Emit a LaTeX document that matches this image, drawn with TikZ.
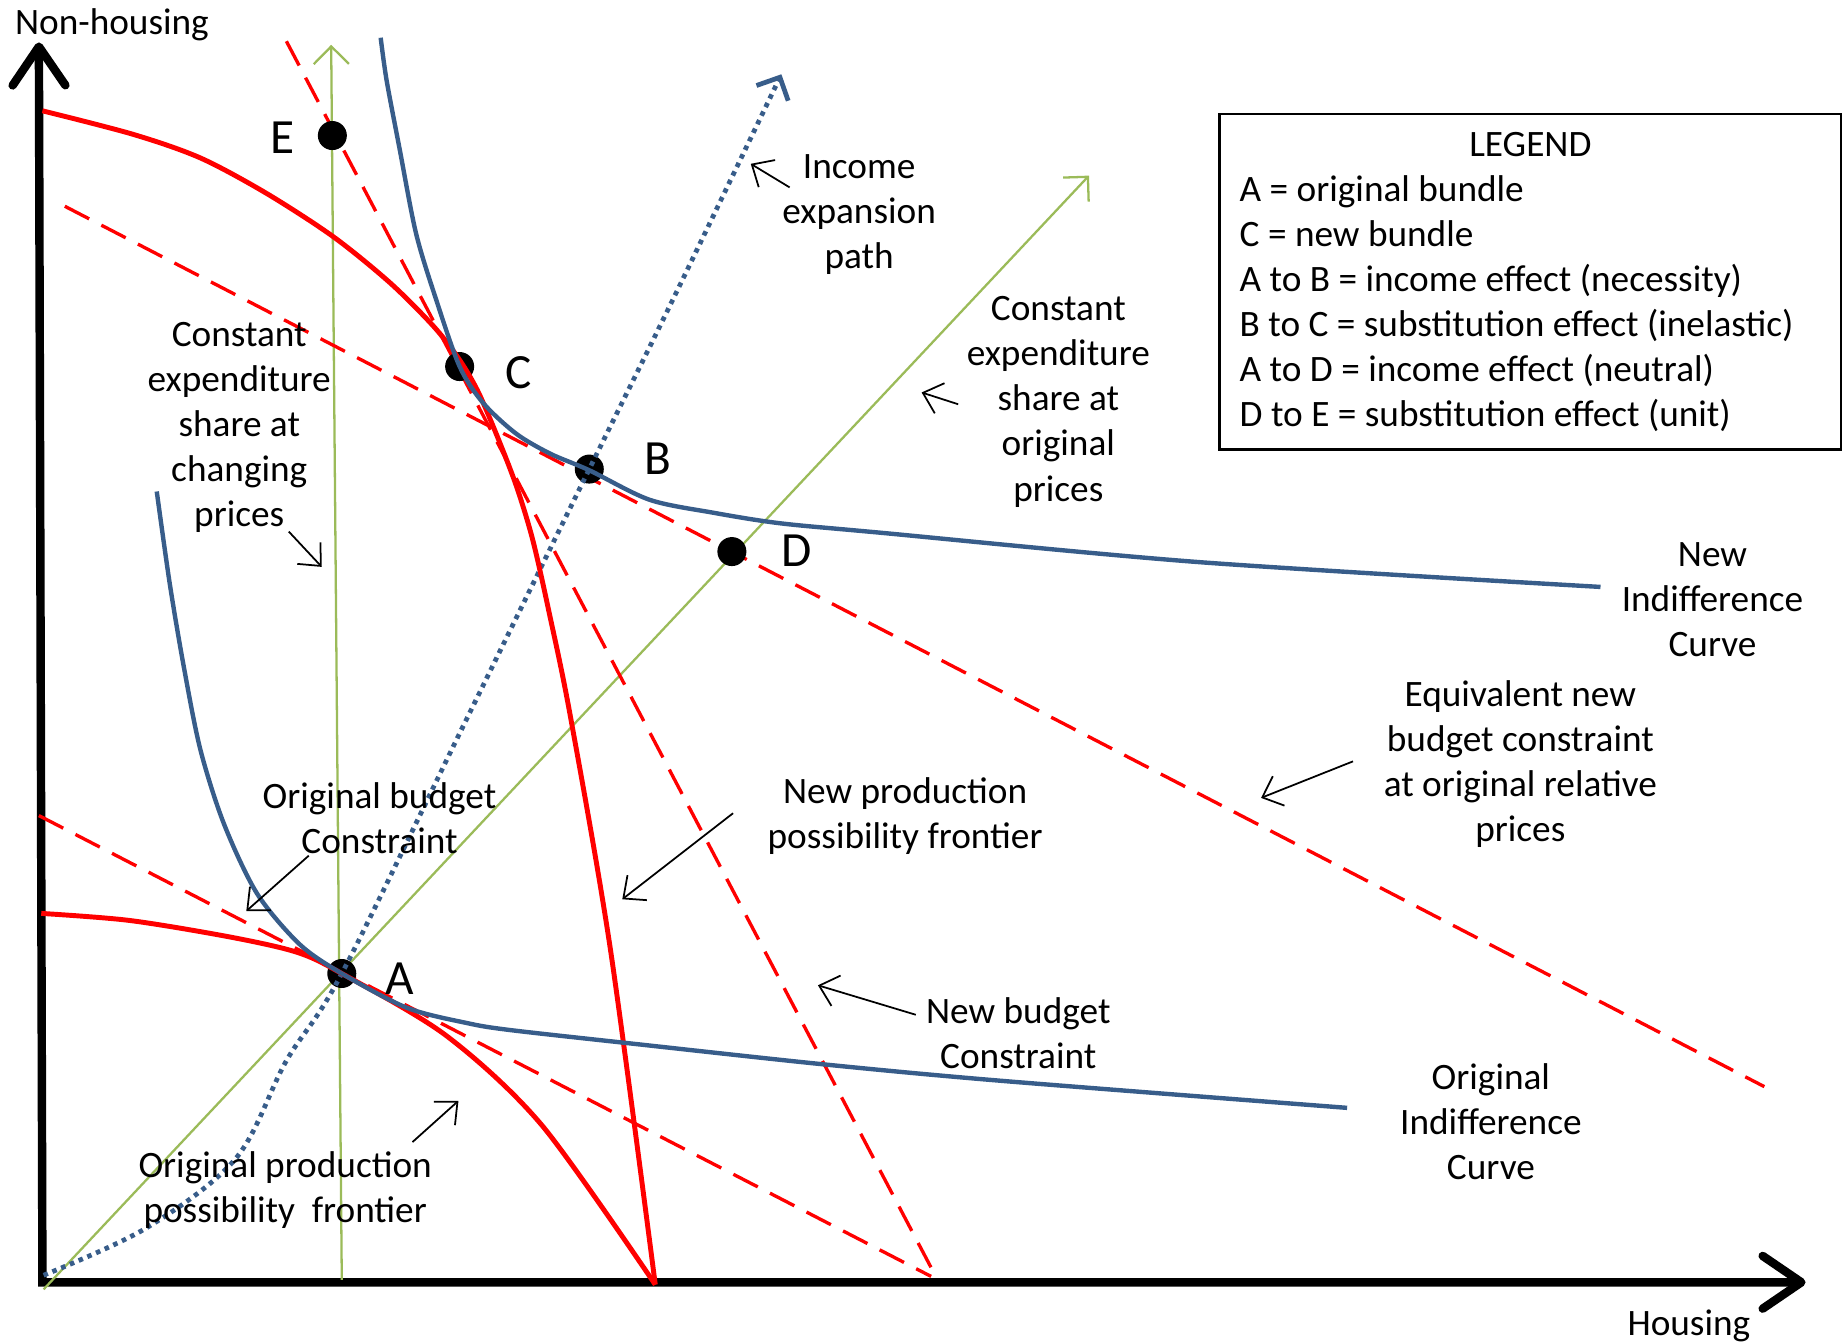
\documentclass[tikz,border=0pt]{standalone}
\usepackage{fontspec}
\setmainfont{Carlito}
\usetikzlibrary{arrows.meta}

\definecolor{icblue}{RGB}{56,93,138}
\definecolor{sharegreen}{RGB}{155,187,89}

\tikzset{
  axes/.style={line width=2.4pt,
    {Straight Barb[length=11pt,width=15pt,round]}-{Straight Barb[length=11pt,width=15pt,round]}},
  ppf/.style={red, line width=1.4pt},
  budget/.style={red, line width=0.95pt, dash pattern=on 7.8pt off 3.9pt},
  icurve/.style={icblue, line width=1.25pt},
  share/.style={sharegreen, line width=0.65pt, -{Straight Barb[length=5pt,width=10pt]}},
  iepath/.style={icblue, line width=1.35pt, dash pattern=on 1.3pt off 1.4pt,
    -{Straight Barb[length=5pt,width=10pt]}},
  pointer/.style={line width=0.5pt, -{Straight Barb[length=5pt,width=9pt]}},
  bundle/.style={circle, fill=black, inner sep=0pt, minimum size=0.29cm},
  ptlabel/.style={font=\fontsize{14}{17}\selectfont},
  txt/.style={align=center, font=\fontsize{10.6}{12.8}\selectfont},
}

\begin{document}
\begin{tikzpicture}[x=0.011786cm, y=-0.011786cm]
  \useasboundingbox (0,0) rectangle (1568,1139);

  % axes
  \draw[axes] (33,36) -- (36,1088) -- (1532,1088);
  \path (95,21) node[txt] (ynm) {Non-housing};
  \path (1433,1125) node[txt] (xnm) {Housing};

  % constant expenditure share rays
  \draw[share] (290,1086) -- (281,38);
  \draw[share] (37,1094) -- (924,149);

  % budget lines
  \draw[budget] (33,692) -- (790,1083);
  \draw[budget] (243,35) -- (795,1085);
  \draw[budget] (55,175) -- (1497,922);

  % bundles
  \path (290,826) node[bundle] (A) {};
  \path (500,398) node[bundle] (B) {};
  \path (390,311) node[bundle] (C) {};
  \path (621,468) node[bundle] (D) {};
  \path (282,115) node[bundle] (E) {};
  \path (339,830) node[ptlabel] (labA) {A};
  \path (558,389) node[ptlabel] (labB) {B};
  \path (440,316) node[ptlabel] (labC) {C};
  \path (676,467) node[ptlabel] (labD) {D};
  \path (240,117) node[ptlabel] (labE) {E};

  % income expansion path
  \draw[iepath] plot[smooth, tension=0.55] coordinates {(37,1082) (124,1042) (200,983)
    (243,900) (290,826) (395,612) (500,398) (571,254) (663,63)};

  % production possibility frontiers
  \draw[ppf] plot[smooth, tension=0.5] coordinates {(35,775) (110,781) (195,795)
    (252,808) (290,826) (379,879) (460,955) (556,1090)};
  \draw[ppf] plot[smooth, tension=0.5] coordinates {(36,94) (113,114) (170,134)
    (226,164) (283,201) (331,240) (368,277) (389,304) (405,331) (421,368) (438,412)
    (452,458) (466,520) (484,608) (518,806) (556,1090)};

  % indifference curves
  \draw[icurve] plot[smooth, tension=0.5] coordinates {(133,417) (144,495) (156,566)
    (170,636) (190,699) (218,758) (254,801) (290,826) (345,855) (396,868) (433,874)
    (541,886) (698,903) (849,917) (1143,940)};
  \draw[icurve] plot[smooth, tension=0.5] coordinates {(323,32) (328,68) (339,126)
    (353,198) (370,254) (390,311) (410,342) (438,368) (467,385) (500,399) (551,424)
    (605,435) (662,444) (747,452) (1018,477) (1358,498)};

  % legend
  \path (1298.5,239) node[draw, line width=0.7pt, txt, align=left,
    minimum width=6.21cm, minimum height=3.35cm, text width=5.81cm, inner xsep=0.2cm]
    (legend) {\spaceskip=0pt \xspaceskip=0pt
      \makebox[\linewidth]{LEGEND}\\
      A = original bundle\\
      C = new bundle\\
      A to B = income effect (necessity)\\
      B to C = substitution effect (inelastic)\\
      A to D = income effect (neutral)\\
      D to E = substitution effect (unit)};

  % labels
  \path (729,182) node[txt] (iepl) {Income\\expansion\\path};
  \path (898,341) node[txt] (orgsh) {Constant\\expenditure\\share at\\original\\prices};
  \path (203,363) node[txt] (chgsh) {Constant\\expenditure\\share at\\changing\\prices};
  \path (1453,509) node[txt] (newic) {New\\Indifference\\Curve};
  \path (1290,648) node[txt] (eqbc) {Equivalent new\\budget constraint\\at original relative\\prices};
  \path (768,692) node[txt] (newppf) {New production\\possibility frontier};
  \path (322,694) node[txt] (orgbc) {Original budget\\Constraint};
  \path (864,877) node[txt] (newbc) {New budget\\Constraint};
  \path (1265,952) node[txt] (orgic) {Original\\Indifference\\Curve};
  \path (242,1010) node[txt] (orgppf) {Original production\\possibility\ \ frontier};

  % pointers
  \coordinate (p1s) at (670,159);  \coordinate (p1e) at (637,139);
  \coordinate (p2s) at (813,343);  \coordinate (p2e) at (782,333);
  \coordinate (p3s) at (245,451);  \coordinate (p3e) at (273,481);
  \coordinate (p4s) at (1148,646); \coordinate (p4e) at (1070,677);
  \coordinate (p5s) at (622,690);  \coordinate (p5e) at (528,763);
  \coordinate (p6s) at (262,726);  \coordinate (p6e) at (209,773);
  \coordinate (p7s) at (777,861);  \coordinate (p7e) at (694,836);
  \coordinate (p8s) at (350,969);  \coordinate (p8e) at (389,934);
  \foreach \i in {1,...,8}
    \draw[pointer] (p\i s) -- (p\i e);
\end{tikzpicture}
\end{document}
